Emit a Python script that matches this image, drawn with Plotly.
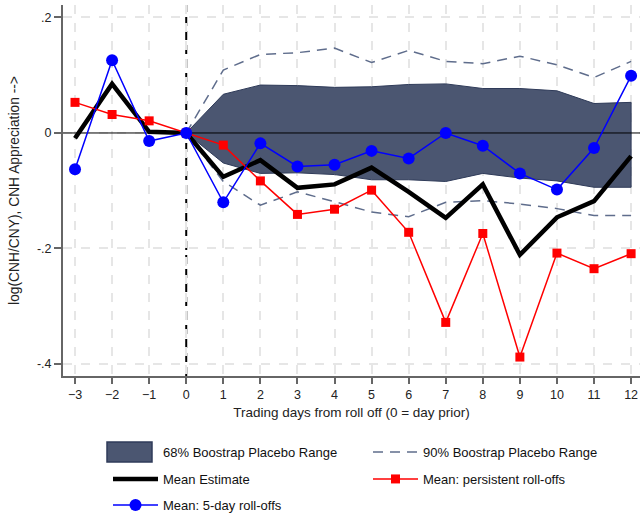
import plotly.graph_objects as go

days = list(range(-3, 13))
band_days = list(range(0, 13))

mean_est = [-0.009, 0.085, 0.002, 0.0, -0.076, -0.047, -0.095, -0.089, -0.060, -0.102,
            -0.147, -0.089, -0.211, -0.146, -0.118, -0.040]
five_day = [-0.063, 0.126, -0.014, 0.0, -0.120, -0.018, -0.058, -0.055, -0.031, -0.044,
            0.000, -0.022, -0.070, -0.098, -0.026, 0.099]
persistent = [0.053, 0.032, 0.021, 0.0, -0.021, -0.083, -0.141, -0.132, -0.099, -0.172,
              -0.328, -0.174, -0.388, -0.208, -0.235, -0.209]

band68_hi = [0.0, 0.067, 0.083, 0.082, 0.079, 0.080, 0.084, 0.085, 0.077, 0.077, 0.073, 0.051, 0.053]
band68_lo = [0.0, -0.052, -0.070, -0.069, -0.072, -0.081, -0.081, -0.084, -0.070, -0.078, -0.083, -0.094, -0.094]
band90_hi = [0.0, 0.109, 0.136, 0.139, 0.147, 0.122, 0.143, 0.124, 0.120, 0.133, 0.118, 0.096, 0.124]
band90_lo = [0.0, -0.084, -0.125, -0.102, -0.119, -0.137, -0.145, -0.120, -0.117, -0.123, -0.131, -0.143, -0.143]

x_ticks = list(range(-3, 13))
y_ticks = [-0.4, -0.2, 0.0, 0.2]
y_tick_labels = ["-.4", "-.2", "0", ".2"]

x_range = [-3.324, 12.24]
y_range = [-0.4208, 0.2216]

BAND_FILL = "#4b5671"
BAND_LINE = "#2f3b59"
DASH_COL = "#5f6d8c"

fig = go.Figure()

# 68% band (filled polygon with thin darker border)
fig.add_trace(go.Scatter(
    x=band_days + band_days[::-1], y=band68_hi + band68_lo[::-1],
    fill="toself", fillcolor=BAND_FILL, mode="lines",
    line=dict(color=BAND_LINE, width=1),
    showlegend=False, hoverinfo="skip"))
# legend-only entry for the band (key box drawn as a shape below)
fig.add_trace(go.Scatter(
    x=[None], y=[None], mode="lines",
    line=dict(color="rgba(0,0,0,0)", width=0),
    name="68% Boostrap Placebo Range", legend="legend"))

fig.add_trace(go.Scatter(
    x=band_days, y=band90_hi, mode="lines",
    line=dict(color=DASH_COL, width=1.5, dash="10px,7px"),
    name="90% Boostrap Placebo Range", legendgroup="b90", legend="legend"))
fig.add_trace(go.Scatter(
    x=band_days, y=band90_lo, mode="lines",
    line=dict(color=DASH_COL, width=1.5, dash="10px,7px"),
    name="90% Boostrap Placebo Range", legendgroup="b90", showlegend=False))

fig.add_trace(go.Scatter(
    x=x_range, y=[0, 0], mode="lines", line=dict(color="black", width=1),
    showlegend=False, hoverinfo="skip"))

fig.add_trace(go.Scatter(
    x=days, y=mean_est, mode="lines", line=dict(color="black", width=4.5),
    name="Mean Estimate", legend="legend2"))

fig.add_trace(go.Scatter(
    x=days, y=persistent, mode="lines+markers",
    line=dict(color="#ff0000", width=1.5),
    marker=dict(symbol="square", size=9, color="#ff0000"),
    name="Mean: persistent roll-offs", legend="legend2"))

fig.add_trace(go.Scatter(
    x=days, y=five_day, mode="lines+markers",
    line=dict(color="#0000ff", width=1.5),
    marker=dict(symbol="circle", size=12, color="#0000ff"),
    name="Mean: 5-day roll-offs", legend="legend3"))

# vertical reference line at day 0
fig.add_shape(type="line", x0=0, x1=0, y0=0, y1=1, xref="x", yref="paper",
              line=dict(color="white", width=3), layer="below")
fig.add_shape(type="line", x0=0, x1=0, y0=0, y1=1, xref="x", yref="paper",
              line=dict(color="black", width=2, dash="9px,5px"), layer="below")

# wide legend key for the 68% band (paper coords of the legend key box)
PLOT_L, PLOT_W, PLOT_B, PLOT_H = 63, 577, 376, 371
key_px = (107, 152, 442, 462)
fig.add_shape(type="rect", xref="paper", yref="paper",
              x0=(key_px[0] - PLOT_L) / PLOT_W, x1=(key_px[1] - PLOT_L) / PLOT_W,
              y0=(PLOT_B - key_px[3]) / PLOT_H, y1=(PLOT_B - key_px[2]) / PLOT_H,
              fillcolor=BAND_FILL, line=dict(color=BAND_LINE, width=1.5), layer="above")

axis_col = "#666666"
FONT = "Liberation Sans, Arial, sans-serif"

leg_common = dict(orientation="h", entrywidth=200, entrywidthmode="pixels",
                  itemwidth=45, font=dict(family=FONT, size=13, color="#111"),
                  xanchor="left", yanchor="middle", x=0.078, bgcolor="rgba(0,0,0,0)")

fig.update_layout(
    width=640, height=513,
    margin=dict(l=PLOT_L, r=0, t=5, b=137, autoexpand=False),
    paper_bgcolor="white", plot_bgcolor="white",
    font=dict(family=FONT, size=12.5, color="#222"),
    xaxis=dict(range=x_range, tickmode="array", tickvals=x_ticks,
               showline=True, linecolor=axis_col, linewidth=2,
               ticks="outside", ticklen=6, tickcolor=axis_col, tickwidth=1.5,
               showgrid=True, gridcolor="#e6e6e6", gridwidth=1.5, griddash="dash",
               zeroline=False,
               title=dict(text="Trading days from roll off (0 = day prior)",
                          font=dict(size=13.5), standoff=7)),
    yaxis=dict(range=y_range, tickmode="array", tickvals=y_ticks, ticktext=y_tick_labels,
               showline=True, linecolor=axis_col, linewidth=2,
               ticks="outside", ticklen=7, tickcolor=axis_col, tickwidth=1.5,
               showgrid=True, gridcolor="#e6e6e6", gridwidth=1.5, griddash="dash",
               zeroline=False,
               title=dict(text="log(CNH/CNY), CNH Appreciation -->",
                          font=dict(size=13.8), standoff=14)),
    legend=dict(**leg_common, y=-0.2049),
    legend2=dict(**leg_common, y=-0.2776),
    legend3=dict(**leg_common, y=-0.3477),
)

fig.write_html("out.html", config={"displayModeBar": False},
               post_script="document.body.style.margin='0px';")
